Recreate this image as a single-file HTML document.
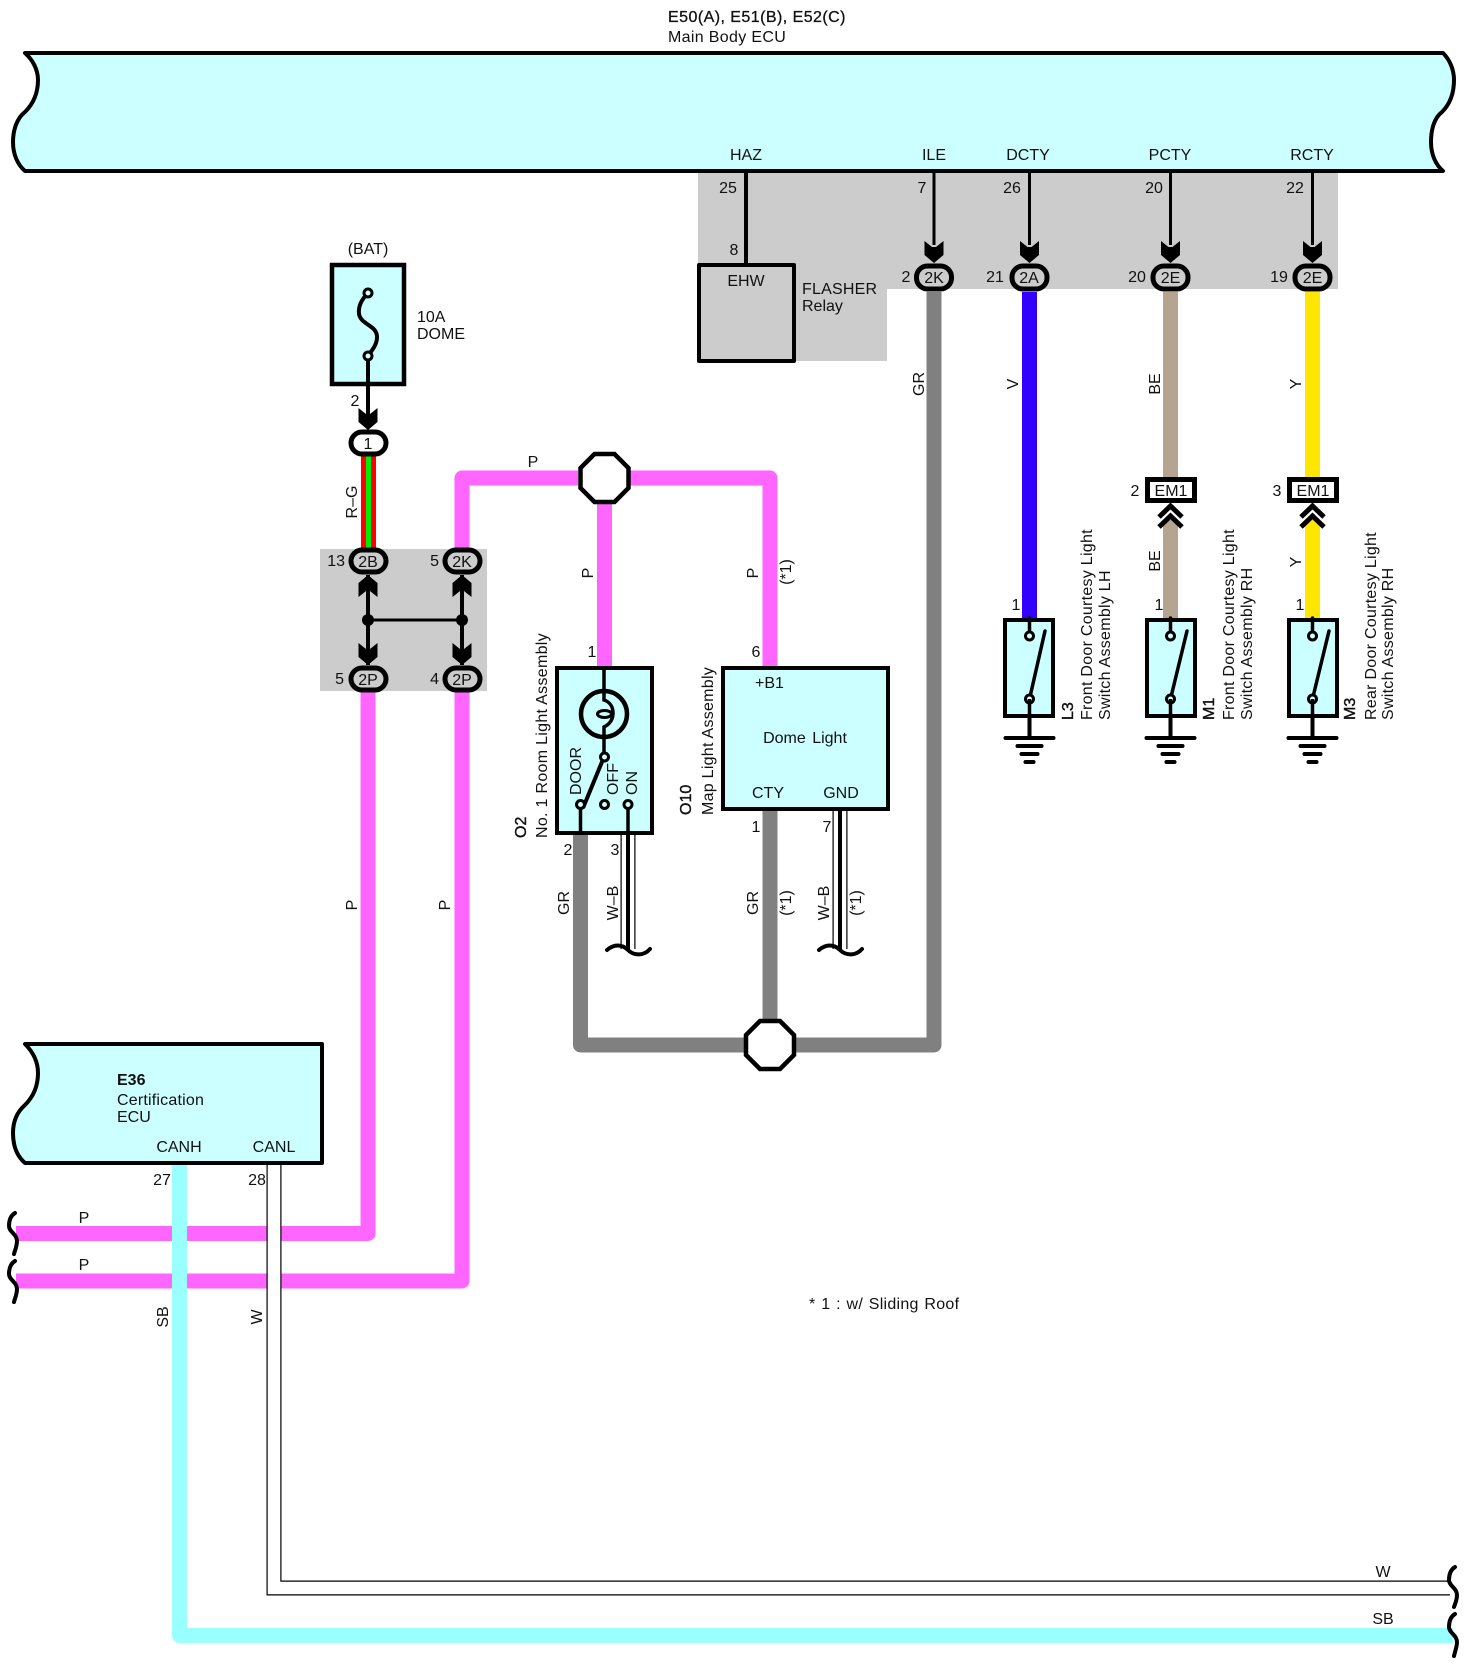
<!DOCTYPE html>
<html><head><meta charset="utf-8"><style>
html,body{margin:0;padding:0;background:#fff}
svg{display:block}
text{font-family:"Liberation Sans",sans-serif;font-size:16px;fill:#111}
.c{text-anchor:middle}
.b{font-weight:bold}
.s{letter-spacing:.27px}
.h{stroke:#111;stroke-width:.4}
</style></head><body>
<svg xmlns="http://www.w3.org/2000/svg" width="1479" height="1668" viewBox="0 0 1479 1668">
<defs>
<polygon id="a" points="-9.5,-22 -2,-16 2,-16 9.500,-22 9.500,-8 0,0 -9.500,-8" fill="#000"/>
<g id="gnd" fill="none" stroke="#000" stroke-width="4" stroke-linecap="round">
<path d="M0 0V21"/><path d="M-24 21H24"/><path d="M-12 29H12"/><path d="M-8 37H8"/><path d="M-4 45H4"/>
</g>
</defs>
<!-- gray zones -->
<path d="M698 171H1338V289H887V361H698Z" fill="#ccc"/>
<rect x="320" y="549" width="167" height="142" fill="#ccc"/>

<!-- wires -->
<g fill="none" stroke-linejoin="round">
<path d="M934 292V1045H796M744 1045H580.500V834M770 1019V810" stroke="#808080" stroke-width="15"/>
<path d="M1029.500 292V618" stroke="#3300ff" stroke-width="15"/>
<path d="M1170.500 292V477M1170.500 520V618" stroke="#b5a490" stroke-width="15"/>
<path d="M1312.500 292V477M1312.500 520V618" stroke="#ffe600" stroke-width="15"/>
<path d="M578 478H462V549M630 478H770V666M604.500 500V666" stroke="#ff66ff" stroke-width="15"/>
<path d="M368 691V1233.500H16" stroke="#ff66ff" stroke-width="15"/>
<path d="M462 691V1281H16" stroke="#ff66ff" stroke-width="15"/>
<path d="M368.500 456V549" stroke="#ff0000" stroke-width="15"/>
<path d="M368.500 456V549" stroke="#00ee00" stroke-width="5"/>
<path d="M179.500 1163V1635.500H1453" stroke="#99ffff" stroke-width="15"/>
<path d="M274 1163V1588H1450" stroke="#000" stroke-width="15" stroke-linejoin="miter"/>
<path d="M274 1160V1588H1452" stroke="#fff" stroke-width="12.600" stroke-linejoin="miter"/>
<path d="M628 834V949" stroke="#000" stroke-width="15"/>
<path d="M628 834V949" stroke="#fff" stroke-width="12.600"/>
<path d="M628 834V950" stroke="#000" stroke-width="4"/>
<path d="M840 810V949" stroke="#000" stroke-width="15"/>
<path d="M840 810V949" stroke="#fff" stroke-width="12.600"/>
<path d="M840 810V950" stroke="#000" stroke-width="4"/>
</g>

<!-- bars -->
<path d="M25 53H1443C1450 60 1454 70 1454 80C1454 95 1449 105 1442 112C1434 118 1431 130 1431 142C1431 155 1436 165 1443 171H25C18 165 13 155 13 142C13 130 17 118 25 112C32 105 38 95 38 80C38 70 33 60 25 53Z" fill="#ccffff" stroke="#000" stroke-width="4" stroke-linejoin="round"/>
<path d="M25 1044H322V1163H25C18 1157 13 1147 13 1133C13 1122 17 1112 25 1105C32 1098 38 1088 38 1073C38 1062 33 1052 25 1044Z" fill="#ccffff" stroke="#000" stroke-width="4" stroke-linejoin="round"/>

<!-- signal wires -->
<g fill="none" stroke="#000" stroke-width="3">
<path d="M746 171V263" stroke-width="4"/>
<path d="M934 171V245"/><path d="M1029.500 171V245"/><path d="M1170.500 171V245"/><path d="M1312.500 171V245"/>
<path d="M368 356V415" stroke-width="4"/>
<path d="M368 575V665M462 575V665" stroke-width="4"/>
<path d="M368 620H462"/>
</g>
<use href="#a" x="934" y="263"/><use href="#a" x="1029.500" y="263"/><use href="#a" x="1170.500" y="263"/><use href="#a" x="1312.500" y="263"/>
<use href="#a" x="368" y="430"/>
<use href="#a" x="368" y="665"/><use href="#a" x="462" y="665"/>
<use href="#a" transform="translate(368 575) scale(1 -1)"/><use href="#a" transform="translate(462 575) scale(1 -1)"/>
<circle cx="368" cy="620" r="6"/><circle cx="462" cy="620" r="6"/>

<!-- EHW box -->
<rect x="699" y="265" width="95" height="96" fill="#ccc" stroke="#000" stroke-width="4" stroke-linejoin="round"/>

<!-- Fuse -->
<rect x="332" y="265" width="72" height="119" fill="#ccffff" stroke="#000" stroke-width="4.500"/>
<path d="M368 293C362 299 358 306 359 314C361 325 377 325 377 337C377 345 372 350 368 356" fill="none" stroke="#000" stroke-width="4"/>
<circle cx="368" cy="293" r="4" fill="#ccffff" stroke="#000" stroke-width="3"/>
<circle cx="368" cy="356" r="4" fill="#ccffff" stroke="#000" stroke-width="3"/>
<path d="M368 360V386" stroke="#000" stroke-width="4"/>

<!-- connectors -->
<g stroke="#000" stroke-width="5">
<rect x="351" y="432" width="35" height="22" rx="11" fill="#fff"/>
<rect x="351" y="550" width="35" height="22" rx="11" fill="#ccc"/>
<rect x="445" y="550" width="35" height="22" rx="11" fill="#ccc"/>
<rect x="351" y="668" width="35" height="22" rx="11" fill="#ccc"/>
<rect x="445" y="668" width="35" height="22" rx="11" fill="#ccc"/>
<rect x="916.500" y="266" width="35" height="23" rx="11" fill="#ccc"/>
<rect x="1012" y="266" width="35" height="23" rx="11" fill="#ccc"/>
<rect x="1153" y="266" width="35" height="23" rx="11" fill="#ccc"/>
<rect x="1295" y="266" width="35" height="23" rx="11" fill="#ccc"/>
</g>

<!-- octagons -->
<polygon points="594.500,454 614.500,454 628.500,468 628.500,488 614.500,502 594.500,502 580.500,488 580.500,468" fill="#fff" stroke="#000" stroke-width="4.500"/>
<polygon points="760,1021 780,1021 794,1035 794,1055 780,1069 760,1069 746,1055 746,1035" fill="#fff" stroke="#000" stroke-width="4.500"/>

<!-- Room light -->
<rect x="557" y="668" width="95" height="165" fill="#ccffff" stroke="#000" stroke-width="4"/>
<g fill="none" stroke="#000">
<circle cx="604" cy="714" r="23" stroke-width="4.500"/>
<path d="M604 668V700C610 702 613 707 613 713C613 719 610 724 604 727V757" stroke-width="3.500"/>
<ellipse cx="604.500" cy="714" rx="7" ry="3.500" stroke-width="3"/>
<path d="M604 757L583 808" stroke-width="4"/>
<path d="M580.500 808V834M628 808V834" stroke-width="3.500"/>
</g>
<circle cx="604.500" cy="757" r="4" fill="#ccffff" stroke="#000" stroke-width="3"/>
<circle cx="580.500" cy="804.500" r="4" fill="#ccffff" stroke="#000" stroke-width="3"/>
<circle cx="604.500" cy="804.500" r="4" fill="#ccffff" stroke="#000" stroke-width="3"/>
<circle cx="628" cy="804.500" r="4" fill="#ccffff" stroke="#000" stroke-width="3"/>

<!-- O10 -->
<rect x="723" y="668" width="165" height="141" fill="#ccffff" stroke="#000" stroke-width="4"/>

<!-- waves / braces -->
<g fill="none" stroke="#000" stroke-width="4" stroke-linecap="round">
<path d="M607 950C614 944 622 944 628 950C634 956 644 956 650 949"/>
<path d="M819 950C826 944 834 944 840 950C846 956 856 956 862 949"/>
<path d="M15 1213C10 1216 9 1222 9 1226C9 1232 17 1234 17 1241C17 1246 15 1250 14 1254"/>
<path d="M15 1261C10 1264 9 1270 9 1274C9 1280 17 1282 17 1289C17 1294 15 1298 14 1302"/>
<path d="M1455 1567C1450 1570 1449 1576 1449 1580C1449 1586 1457 1588 1457 1595C1457 1600 1455 1604 1454 1607"/>
<path d="M1455 1614C1450 1617 1449 1623 1449 1627C1449 1633 1457 1635 1457 1642C1457 1647 1455 1651 1454 1656"/>
</g>

<!-- door switches -->
<g>
<rect x="1005" y="620" width="48" height="96" fill="#ccffff" stroke="#000" stroke-width="4"/>
<rect x="1147" y="620" width="48" height="96" fill="#ccffff" stroke="#000" stroke-width="4"/>
<rect x="1289" y="620" width="48" height="96" fill="#ccffff" stroke="#000" stroke-width="4"/>
<g fill="none" stroke="#000" stroke-width="3.500">
<path d="M1029.500 618V636M1029.500 699L1045 631" stroke-linecap="round"/>
<path d="M1170.500 618V636M1170.500 699L1187 631" stroke-linecap="round"/>
<path d="M1312.500 618V636M1312.500 699L1329 631" stroke-linecap="round"/>
</g>
<g fill="#ccffff" stroke="#000" stroke-width="3">
<circle cx="1029.500" cy="636" r="4"/><circle cx="1029.500" cy="699" r="4"/>
<circle cx="1170.500" cy="636" r="4"/><circle cx="1170.500" cy="699" r="4"/>
<circle cx="1312.500" cy="636" r="4"/><circle cx="1312.500" cy="699" r="4"/>
</g>
<use href="#gnd" x="1029.500" y="717"/><use href="#gnd" x="1170.500" y="717"/><use href="#gnd" x="1312.500" y="717"/>
<path d="M1029.500 699V716M1170.500 699V716M1312.500 699V716" stroke="#000" stroke-width="3.500"/>
</g>

<!-- EM1 -->
<rect x="1147.500" y="479.500" width="47" height="21" fill="#fff" stroke="#000" stroke-width="5"/>
<rect x="1289.500" y="479.500" width="47" height="21" fill="#fff" stroke="#000" stroke-width="5"/>
<g fill="none" stroke="#000" stroke-width="5">
<path d="M1159 517L1170.500 506L1182 517M1159 527L1170.500 516L1182 527"/>
<path d="M1301 517L1312.500 506L1324 517M1301 527L1312.500 516L1324 527"/>
</g>

<!-- labels horizontal -->
<text x="668" y="22" class="h" style="letter-spacing:.45px;stroke-width:.3">E50(A), E51(B), E52(C)</text>
<text x="668" y="42" style="letter-spacing:.33px">Main Body ECU</text>
<text class="c" x="746" y="160">HAZ</text><text class="c" x="934" y="160">ILE</text><text class="c" x="1028" y="160">DCTY</text><text class="c" x="1170" y="160">PCTY</text><text class="c" x="1312" y="160">RCTY</text>
<text class="c" x="728" y="193">25</text><text class="c" x="922" y="193">7</text><text class="c" x="1012" y="193">26</text><text class="c" x="1154" y="193">20</text><text class="c" x="1295" y="193">22</text>
<text class="c" x="734" y="255">8</text>
<text class="c" x="746" y="286">EHW</text>
<text x="802" y="294" style="letter-spacing:.2px">FLASHER</text><text x="802" y="311">Relay</text>
<text class="c" x="906" y="282">2</text><text class="c" x="995" y="282">21</text><text class="c" x="1137" y="282">20</text><text class="c" x="1279" y="282">19</text>
<text class="c" x="934" y="283">2K</text><text class="c" x="1029" y="283">2A</text><text class="c" x="1170.500" y="283">2E</text><text class="c" x="1312.500" y="283">2E</text>
<text class="c" x="368" y="254">(BAT)</text>
<text x="417" y="322">10A</text><text x="417" y="339">DOME</text>
<text class="c" x="355" y="406">2</text>
<text class="c" x="368" y="449">1</text>
<text class="c" x="368" y="567">2B</text><text class="c" x="462" y="567">2K</text><text class="c" x="368" y="685">2P</text><text class="c" x="462" y="685">2P</text>
<text x="345" y="566" text-anchor="end">13</text><text x="439" y="566" text-anchor="end">5</text><text x="344" y="684" text-anchor="end">5</text><text x="439" y="684" text-anchor="end">4</text>
<text class="c" x="533" y="467">P</text>
<text class="c" x="592" y="657">1</text><text class="c" x="756" y="657">6</text>
<text x="755" y="688">+B1</text>
<text class="c" x="805" y="743" style="word-spacing:2px">Dome Light</text>
<text class="c" x="768" y="798">CTY</text><text class="c" x="841" y="798">GND</text>
<text class="c" x="756" y="832">1</text><text class="c" x="827" y="832">7</text>
<text class="c" x="568" y="855">2</text><text class="c" x="615" y="855">3</text>
<text class="c" x="1135" y="496">2</text><text class="c" x="1277" y="496">3</text>
<text class="c" x="1171" y="496">EM1</text><text class="c" x="1313" y="496">EM1</text>
<text class="c" x="1016" y="610">1</text><text class="c" x="1159" y="610">1</text><text class="c" x="1300" y="610">1</text>
<text x="117" y="1085" class="b">E36</text><text x="117" y="1105" style="letter-spacing:.2px">Certification</text><text x="117" y="1122">ECU</text>
<text class="c" x="179" y="1152">CANH</text><text class="c" x="274" y="1152">CANL</text>
<text class="c" x="162" y="1185">27</text><text class="c" x="257" y="1185">28</text>
<text class="c" x="84" y="1223">P</text><text class="c" x="84" y="1270">P</text>
<text x="809" y="1309" class="s" style="word-spacing:1px">* 1 : w/ Sliding Roof</text>
<text class="c" x="1383" y="1577">W</text><text class="c" x="1383" y="1624">SB</text>

<!-- rotated labels -->
<text transform="translate(357 502) rotate(-90)" class="c">R–G</text>
<text transform="translate(593 573) rotate(-90)" class="c">P</text>
<text transform="translate(758 573) rotate(-90)" class="c">P</text>
<text transform="translate(791 572) rotate(-90)" class="c">(*1)</text>
<text transform="translate(924 384) rotate(-90)" class="c">GR</text>
<text transform="translate(1018 384) rotate(-90)" class="c">V</text>
<text transform="translate(1160 384) rotate(-90)" class="c">BE</text>
<text transform="translate(1301 384) rotate(-90)" class="c">Y</text>
<text transform="translate(1160 561) rotate(-90)" class="c">BE</text>
<text transform="translate(1301 562) rotate(-90)" class="c">Y</text>
<text transform="translate(357 905) rotate(-90)" class="c">P</text>
<text transform="translate(450 905) rotate(-90)" class="c">P</text>
<text transform="translate(569 903) rotate(-90)" class="c">GR</text>
<text transform="translate(618 903) rotate(-90)" class="c">W–B</text>
<text transform="translate(758 903) rotate(-90)" class="c">GR</text>
<text transform="translate(791 903) rotate(-90)" class="c">(*1)</text>
<text transform="translate(829 903) rotate(-90)" class="c">W–B</text>
<text transform="translate(861 903) rotate(-90)" class="c">(*1)</text>
<text transform="translate(168 1317) rotate(-90)" class="c">SB</text>
<text transform="translate(262 1317) rotate(-90)" class="c">W</text>
<text transform="translate(581 795) rotate(-90)">DOOR</text>
<text transform="translate(618 795) rotate(-90)">OFF</text>
<text transform="translate(637 795) rotate(-90)">ON</text>
<text transform="translate(526 838) rotate(-90)" class="h">O2</text>
<text transform="translate(547 838) rotate(-90)" style="letter-spacing:.3px">No. 1 Room Light Assembly</text>
<text transform="translate(691 815) rotate(-90)" class="h">O10</text>
<text transform="translate(713 815) rotate(-90)" class="s">Map Light Assembly</text>
<text transform="translate(1073 720) rotate(-90)" class="h">L3</text>
<text transform="translate(1092 720) rotate(-90)" class="s">Front Door Courtesy Light</text>
<text transform="translate(1110 720) rotate(-90)" class="s">Switch Assembly LH</text>
<text transform="translate(1214 720) rotate(-90)" class="h">M1</text>
<text transform="translate(1234 720) rotate(-90)" class="s">Front Door Courtesy Light</text>
<text transform="translate(1252 720) rotate(-90)" class="s">Switch Assembly RH</text>
<text transform="translate(1355 720) rotate(-90)" class="h">M3</text>
<text transform="translate(1376 720) rotate(-90)" class="s">Rear Door Courtesy Light</text>
<text transform="translate(1393 720) rotate(-90)" class="s">Switch Assembly RH</text>
</svg>
</body></html>
